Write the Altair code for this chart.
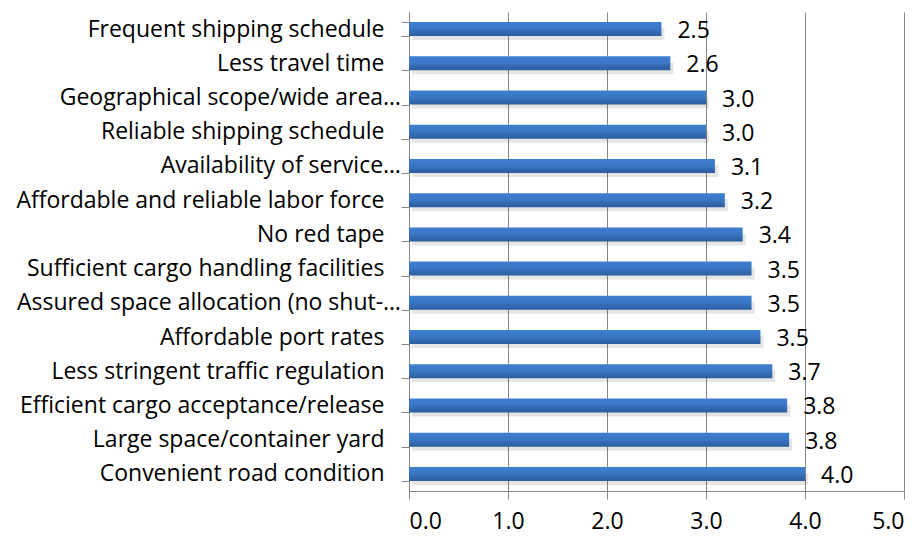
import altair as alt
import pandas as pd

categories = [
    "Frequent shipping schedule",
    "Less travel time",
    "Geographical scope/wide area…",
    "Reliable shipping schedule",
    "Availability of service…",
    "Affordable and reliable labor force",
    "No red tape",
    "Sufficient cargo handling facilities",
    "Assured space allocation (no shut-…",
    "Affordable port rates",
    "Less stringent traffic regulation",
    "Efficient cargo acceptance/release",
    "Large space/container yard",
    "Convenient road condition",
]
values = [2.55, 2.64, 3.0, 3.0, 3.09, 3.19, 3.37, 3.46, 3.46, 3.55, 3.67, 3.82, 3.84, 4.0]
value_labels = ["2.5", "2.6", "3.0", "3.0", "3.1", "3.2", "3.4", "3.5", "3.5", "3.5", "3.7", "3.8", "3.8", "4.0"]
x_ticks = [0, 1, 2, 3, 4, 5]

df = pd.DataFrame({"cat": categories, "val": values, "lab": value_labels})
df["cut"] = df["cat"].str.endswith("…")

FONT = "Open Sans"
FS = 23

y_enc = alt.Y(
    "cat:N",
    sort=categories,
    title=None,
    scale=alt.Scale(paddingInner=0.59, paddingOuter=0.295),
    axis=alt.Axis(
        tickBand="extent",
        tickSize=8,
        tickColor="#868686",
        domainColor="#868686",
        labelPadding=17,
        labelFont=FONT,
        labelFontSize=FS,
        labelColor="#000000",
        labelLimit=600,
        labelExpr="indexof(datum.label, '…') >= 0 ? '' : datum.label",
        grid=False,
    ),
)

x_enc = alt.X(
    "val:Q",
    title=None,
    scale=alt.Scale(domain=[0, 5], nice=False),
    axis=alt.Axis(
        values=x_ticks,
        format=".1f",
        grid=True,
        gridColor="#868686",
        gridWidth=1,
        gridOpacity=1,
        tickSize=8,
        tickColor="#868686",
        domainColor="#868686",
        labelFont=FONT,
        labelFontSize=FS,
        labelColor="#000000",
        labelPadding=11,
    ),
)

shadow = alt.Chart(df).mark_bar(
    size=12, yOffset=5, xOffset=3, color="#000000", opacity=0.10
).encode(x=x_enc, y=y_enc)

bars = alt.Chart(df).mark_bar(
    size=14,
    color=alt.Gradient(
        gradient="linear",
        x1=0, x2=0, y1=0, y2=1,
        stops=[
            alt.GradientStop(color="#3f7fd0", offset=0),
            alt.GradientStop(color="#3a77c5", offset=0.45),
            alt.GradientStop(color="#2c5c9c", offset=1),
        ],
    ),
).encode(x=x_enc, y=y_enc)

text = alt.Chart(df).mark_text(
    align="left", baseline="middle", dx=16, dy=2, font=FONT, fontSize=FS, color="#000000"
).encode(x=x_enc, y=y_enc, text="lab:N")

# truncated category names sit closer to the axis (as in the original)
cut_labels = alt.Chart(df).transform_filter("datum.cut").mark_text(
    align="right", baseline="middle", dx=-8, font=FONT, fontSize=FS, color="#000000"
).encode(x=alt.value(0), y=y_enc, text="cat:N")

chart = (
    alt.layer(shadow, bars, text, cut_labels)
    .properties(
        width=495,
        height=479,
        autosize=alt.AutoSizeParams(type="none"),
        padding={"left": 401, "top": 4, "right": 11, "bottom": 45},
        background="#ffffff",
    )
    .configure_view(stroke=None)
)

chart.save("out.html", embed_options={"renderer": "svg", "actions": False})
